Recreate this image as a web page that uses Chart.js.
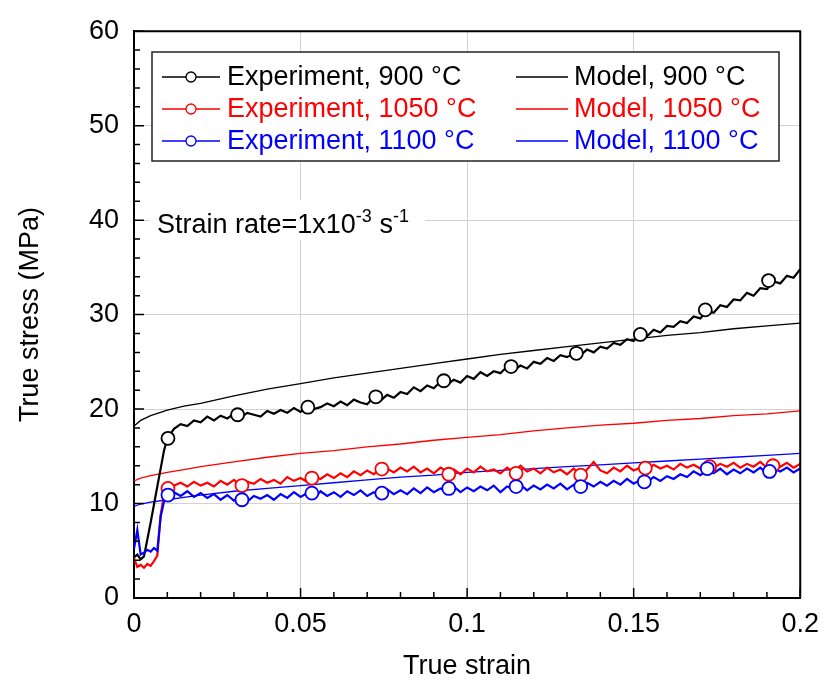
<!DOCTYPE html>
<html>
<head>
<meta charset="utf-8">
<script src="https://cdn.jsdelivr.net/npm/chart.js@4.4.0/dist/chart.umd.min.js"></script>
<style>
  body { margin: 0; background: #fff; }
  #wrap { width: 829px; height: 684px; }
</style>
</head>
<body>
<div id="wrap"><canvas id="myChart" width="829" height="684"></canvas></div>
<script>
// DATA

// experiment strain grid
const expStrain = [0, 0.001, 0.002, 0.003, 0.004, 0.005, 0.006, 0.007, 0.008, 0.009,
    0.010, 0.012, 0.014, 0.016, 0.018, 0.020,
    0.022, 0.024, 0.026, 0.028, 0.030, 0.032, 0.034, 0.036, 0.038, 0.040,
    0.042, 0.044, 0.046, 0.048, 0.050, 0.052, 0.054, 0.056, 0.058, 0.060,
    0.062, 0.064, 0.066, 0.068, 0.070, 0.072, 0.074, 0.076, 0.078, 0.080,
    0.082, 0.084, 0.086, 0.088, 0.090, 0.092, 0.094, 0.096, 0.098, 0.100,
    0.102, 0.104, 0.106, 0.108, 0.110, 0.112, 0.114, 0.116, 0.118, 0.120,
    0.122, 0.124, 0.126, 0.128, 0.130, 0.132, 0.134, 0.136, 0.138, 0.140,
    0.142, 0.144, 0.146, 0.148, 0.150, 0.152, 0.154, 0.156, 0.158, 0.160,
    0.162, 0.164, 0.166, 0.168, 0.170, 0.172, 0.174, 0.176, 0.178, 0.180,
    0.182, 0.184, 0.186, 0.188, 0.190, 0.192, 0.194, 0.196, 0.198, 0.200];

const exp900 = [4.3, 4.6, 4.1, 4.4, 6.2, 8.0, 9.9, 11.8, 13.7, 15.6,
    16.9, 17.9, 18.4, 18.2, 18.8, 18.6,
    19.2, 18.8, 19.3, 19.0, 19.5, 19.1, 19.6, 19.4, 19.2, 19.8,
    19.5, 19.9, 19.6, 20.1, 19.7, 20.3, 20.0, 20.2, 20.6, 20.3,
    20.8, 20.4, 21.0, 20.7, 20.5, 21.3, 20.9, 21.5, 21.2, 21.8,
    21.6, 22.3, 21.9, 22.5, 22.2, 22.9, 22.6, 23.1, 22.8, 23.5,
    23.2, 23.9, 23.5, 24.0, 23.8, 24.5, 24.1, 24.6, 24.3, 25.0,
    24.8, 25.4, 25.1, 25.7, 25.5, 25.9, 25.7, 26.3, 26.0, 26.6,
    26.4, 27.0, 26.8, 27.4, 27.2, 27.9, 27.7, 28.4, 28.1, 28.8,
    28.7, 29.3, 29.1, 29.8, 29.6, 30.4, 30.2, 31.0, 30.8, 31.6,
    31.5, 32.3, 32.0, 32.8, 32.7, 33.5, 33.3, 34.1, 33.9, 34.8];

const exp1050 = [4.2, 3.3, 3.5, 3.2, 3.6, 3.4, 3.9, 4.5, 8.8, 10.9,
    11.6, 11.9, 12.2, 11.8, 12.3, 11.9,
    12.2, 11.8, 12.4, 12.0, 12.5, 11.9, 12.3, 12.1, 12.6, 12.2,
    12.5, 12.1, 12.8, 12.4, 12.7, 12.3, 12.9, 12.6, 13.1, 12.7,
    13.2, 12.8, 13.4, 13.0, 13.5, 13.1, 13.6, 13.7, 13.3, 13.8,
    13.4, 13.9, 13.3, 13.7, 13.2, 13.8, 13.4, 13.6, 13.1, 13.7,
    13.3, 13.9, 13.4, 13.6, 13.2, 13.8, 13.3, 14.0, 13.4, 13.7,
    13.2, 13.8, 13.3, 13.6, 13.1, 13.7, 13.0, 13.6, 14.4, 13.5,
    13.2, 13.8, 13.4, 14.0, 13.5, 13.8, 13.6, 14.1, 13.7, 14.0,
    13.6, 14.2, 13.8, 14.1, 13.7, 14.3, 13.8, 14.2, 13.9, 14.3,
    13.8, 14.2, 13.9, 14.4, 13.8, 14.1, 13.9, 14.3, 13.8, 14.2];

const exp1100 = [5.2, 7.2, 4.6, 4.8, 5.1, 4.9, 5.3, 5.0, 8.6, 10.2,
    10.9, 11.2, 10.8, 11.3, 10.7, 11.1,
    10.6, 11.0, 10.4, 10.9, 10.3, 10.7, 10.2, 10.8, 10.5, 10.9,
    10.4, 11.0, 10.6, 11.2, 10.7, 11.1, 10.5, 11.3, 10.8, 11.2,
    10.7, 11.3, 10.9, 11.4, 10.8, 11.2, 10.9, 11.5, 11.0, 11.4,
    11.0, 11.6, 11.1, 11.7, 11.2, 11.6, 11.3, 11.8, 11.2, 11.7,
    11.3, 11.8, 11.4, 11.9, 11.2, 11.8, 11.5, 12.0, 11.4, 11.9,
    11.5, 12.0, 11.6, 12.1, 11.5, 12.0, 11.7, 12.2, 11.8, 12.3,
    11.9, 12.4, 12.0, 12.6, 12.1, 12.5, 12.3, 12.8, 12.4, 12.9,
    12.6, 13.1, 12.8, 13.4, 13.0, 13.5, 13.2, 13.7, 13.1, 13.6,
    13.2, 13.7, 13.3, 13.8, 13.2, 13.7, 13.4, 13.8, 13.3, 13.7];

// circle markers on the experiment curves
const mark900Strain = [0.0102, 0.0311, 0.0522, 0.0726, 0.0930, 0.1132, 0.1328, 0.1520, 0.1715, 0.1905];
const mark900Stress = [16.9, 19.4, 20.2, 21.3, 23.0, 24.5, 25.9, 27.9, 30.5, 33.6];
const mark1050Strain = [0.0102, 0.0324, 0.0534, 0.0744, 0.0945, 0.1147, 0.1341, 0.1535, 0.1728, 0.1918];
const mark1050Stress = [11.6, 11.9, 12.7, 13.65, 13.1, 13.2, 13.0, 13.75, 13.9, 14.0];
const mark1100Strain = [0.0102, 0.0324, 0.0534, 0.0744, 0.0945, 0.1147, 0.1341, 0.1532, 0.1721, 0.1908];
const mark1100Stress = [10.9, 10.4, 11.1, 11.1, 11.6, 11.8, 11.8, 12.3, 13.7, 13.4];

// model curves
const modelStrain = [0, 0.002, 0.005, 0.01, 0.015, 0.02, 0.03, 0.04, 0.05, 0.06, 0.07, 0.08,
    0.09, 0.10, 0.11, 0.12, 0.13, 0.14, 0.15, 0.16, 0.17, 0.18, 0.19, 0.20];
const model900 = [18.2, 18.8, 19.3, 19.9, 20.3, 20.6, 21.4, 22.1, 22.7, 23.3, 23.8, 24.3,
    24.8, 25.3, 25.8, 26.2, 26.6, 27.0, 27.4, 27.8, 28.1, 28.5, 28.8, 29.1];
const model1050 = [12.4, 12.7, 12.95, 13.3, 13.6, 13.9, 14.4, 14.9, 15.3, 15.6, 16.0, 16.3,
    16.7, 17.0, 17.3, 17.7, 18.0, 18.3, 18.5, 18.8, 19.0, 19.3, 19.5, 19.8];
const model1100 = [9.7, 9.95, 10.15, 10.4, 10.65, 10.9, 11.3, 11.6, 11.9, 12.2, 12.5, 12.8,
    13.0, 13.3, 13.5, 13.7, 13.9, 14.1, 14.3, 14.5, 14.7, 14.9, 15.1, 15.3];

const xTickLabels = ['0', '0.05', '0.1', '0.15', '0.2'];
const legendRows = [
    ['Experiment, 900 \u00B0C', 'Model, 900 \u00B0C', '#000000'],
    ['Experiment, 1050 \u00B0C', 'Model, 1050 \u00B0C', '#ff0000'],
    ['Experiment, 1100 \u00B0C', 'Model, 1100 \u00B0C', '#0000ff']
];

const FONT = "'Liberation Sans', Arial, sans-serif";

function pts(xs, ys) {
    return xs.map((x, i) => ({x: x, y: ys[i]}));
}

function lineSet(xs, ys, color, width, order) {
    return {
        data: pts(xs, ys),
        showLine: true,
        borderColor: color,
        borderWidth: width,
        pointRadius: 0,
        order: order
    };
}

function markSet(xs, ys, color, order) {
    return {
        data: pts(xs, ys),
        showLine: false,
        pointRadius: 6.5,
        pointBackgroundColor: '#ffffff',
        pointBorderColor: color,
        pointBorderWidth: 1.8,
        order: order
    };
}

// axes ticks (inward, major + minor), top/right frame, legend box, note
const decor = {
    id: 'decor',
    afterDraw(chart) {
        const c = chart.ctx;
        const a = chart.chartArea;
        const xs = chart.scales.x;
        const ys = chart.scales.y;
        c.save();
        c.strokeStyle = '#000';
        c.lineWidth = 1.5;
        c.beginPath();
        for (let i = 0; i <= 20; i++) {
            const px = xs.getPixelForValue(i * 0.01);
            const len = i % 5 === 0 ? 10 : 6;
            c.moveTo(px, a.bottom);
            c.lineTo(px, a.bottom - len);
        }
        for (let i = 0; i <= 30; i++) {
            const py = ys.getPixelForValue(i * 2);
            const len = i % 5 === 0 ? 10 : 6;
            c.moveTo(a.left, py);
            c.lineTo(a.left + len, py);
        }
        c.stroke();

        // top and right frame
        c.lineWidth = 2;
        c.beginPath();
        c.moveTo(a.left, a.top);
        c.lineTo(a.right, a.top);
        c.lineTo(a.right, a.bottom);
        c.stroke();

        // legend
        const bx = 152, by = 52, bw = 627, bh = 109;
        c.fillStyle = '#fff';
        c.fillRect(bx, by, bw, bh);
        c.strokeStyle = '#222';
        c.lineWidth = 1.5;
        c.strokeRect(bx, by, bw, bh);
        c.font = '27px ' + FONT;
        c.textBaseline = 'middle';
        c.textAlign = 'left';
        legendRows.forEach((row, i) => {
            const y = 77 + i * 32;
            const col = row[2];
            c.strokeStyle = col;
            c.lineWidth = 1.3;
            c.beginPath();
            c.moveTo(162, y);
            c.lineTo(220, y);
            c.moveTo(516, y);
            c.lineTo(568, y);
            c.stroke();
            c.beginPath();
            c.arc(191, y, 5, 0, Math.PI * 2);
            c.fillStyle = '#fff';
            c.fill();
            c.stroke();
            c.fillStyle = col;
            c.fillText(row[0], 227, y + 1);
            c.fillText(row[1], 574, y + 1);
        });

        // strain rate note
        c.fillStyle = '#fff';
        c.fillRect(150, 200, 275, 40);
        c.fillStyle = '#000';
        c.textBaseline = 'alphabetic';
        let x = 157;
        const base = 233;
        const parts = [['Strain rate=1x10', 27, 0], ['-3', 18, -11], [' s', 27, 0], ['-1', 18, -11]];
        parts.forEach(p => {
            c.font = p[1] + 'px ' + FONT;
            c.fillText(p[0], x, base + p[2]);
            x += c.measureText(p[0]).width;
        });
        c.restore();
    }
};

const ctx = document.getElementById('myChart').getContext('2d');
const myChart = new Chart(ctx, {
    type: 'scatter',
    data: {
        datasets: [
            markSet(mark1100Strain, mark1100Stress, '#0000ff', 0),
            markSet(mark1050Strain, mark1050Stress, '#ff0000', 1),
            markSet(mark900Strain, mark900Stress, '#000000', 2),
            lineSet(expStrain, exp1100, '#0000ff', 2.2, 3),
            lineSet(expStrain, exp1050, '#ff0000', 2.2, 4),
            lineSet(expStrain, exp900, '#000000', 2.2, 5),
            lineSet(modelStrain, model1100, '#0000ff', 1.3, 6),
            lineSet(modelStrain, model1050, '#ff0000', 1.3, 7),
            lineSet(modelStrain, model900, '#000000', 1.3, 8)
        ]
    },
    options: {
        responsive: false,
        animation: false,
        devicePixelRatio: 1,
        layout: { padding: { top: 18, right: 25, left: 0, bottom: 0 } },
        elements: { line: { tension: 0 } },
        plugins: {
            legend: { display: false },
            tooltip: { enabled: false }
        },
        scales: {
            x: {
                type: 'linear',
                min: 0,
                max: 0.2,
                afterFit: s => { s.height = 86; },
                ticks: {
                    stepSize: 0.05,
                    padding: 10,
                    color: '#000',
                    font: { family: FONT, size: 27 },
                    maxRotation: 0,
                    callback: (v, i) => xTickLabels[i]
                },
                grid: { color: '#d2d2d2', lineWidth: 1, drawTicks: false },
                border: { color: '#000', width: 2 },
                title: {
                    display: true,
                    text: 'True strain',
                    color: '#000',
                    font: { family: FONT, size: 27 },
                    padding: { top: 0, bottom: 1 }
                }
            },
            y: {
                min: 0,
                max: 60,
                afterFit: s => { s.width = 134; },
                ticks: {
                    stepSize: 10,
                    padding: 15,
                    color: '#000',
                    font: { family: FONT, size: 27 }
                },
                grid: { color: '#d2d2d2', lineWidth: 1, drawTicks: false },
                border: { color: '#000', width: 2 },
                title: {
                    display: true,
                    text: 'True stress (MPa)',
                    color: '#000',
                    font: { family: FONT, size: 27 },
                    padding: { top: 14, bottom: 0 }
                }
            }
        }
    },
    plugins: [decor]
});
</script>
</body>
</html>
